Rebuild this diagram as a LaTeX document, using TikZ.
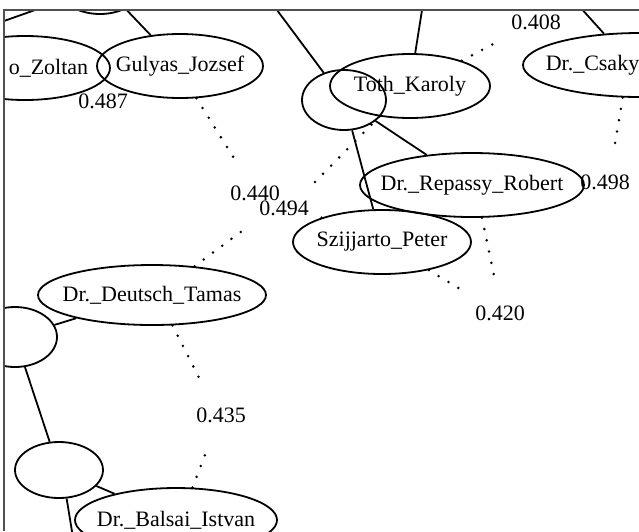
\documentclass[tikz,border=0pt]{standalone}
\usepackage{fontspec}
\setmainfont{Liberation Serif}
\usetikzlibrary{shapes.geometric}
\definecolor{framegray}{RGB}{80,80,80}
\newcommand{\zbox}[1]{\makebox[0pt]{#1}}
\begin{document}
\begin{tikzpicture}[x=1pt,y=-1pt,
  font=\fontsize{22}{26}\selectfont,
  nd/.style={ellipse, draw, line width=1.8pt, inner sep=0pt},
  lbl/.style={ellipse, inner sep=0pt, minimum width=88pt, minimum height=72pt},
  edge/.style={line width=1.8pt},
  dotline/.style={line width=2.8pt, line cap=round, dash pattern=on 0pt off 11.5pt}]
\useasboundingbox (0,0) rectangle (639,531);
\begin{scope}
\clip (4,10) rectangle (639,531);
% nodes
\node[nd, minimum width=90pt, minimum height=64pt] (tl) at (100,-18) {};
\node[nd, minimum width=170pt, minimum height=64pt] (zoltan) at (25,68) {\zbox{\hspace*{47pt}o\_Zoltan}};
\node[nd, minimum width=166pt, minimum height=64pt] (gulyas) at (180,66) {\zbox{Gulyas\_Jozsef}};
\node[nd, minimum width=160pt, minimum height=64pt] (toth) at (410,86) {\zbox{Toth\_Karoly}};
\node[nd, minimum width=84pt, minimum height=60pt] (small) at (344,100) {};
\node[nd, minimum width=234pt, minimum height=64pt] (csaky) at (640,65) {\zbox{Dr.\_Csaky\hspace*{95pt}}};
\node[nd, minimum width=224pt, minimum height=64pt] (repassy) at (472,185) {\zbox{Dr.\_Repassy\_Robert}};
\node[nd, minimum width=178pt, minimum height=64pt] (szij) at (382,242) {\zbox{Szijjarto\_Peter}};
\node[nd, minimum width=228pt, minimum height=60pt] (deutsch) at (152,295) {\zbox{Dr.\_Deutsch\_Tamas}};
\node[nd, minimum width=84pt, minimum height=60pt] (left) at (15,337) {};
\node[nd, minimum width=88pt, minimum height=56pt] (lsmall) at (59,470) {};
\node[nd, minimum width=202pt, minimum height=64pt] (balsai) at (176,520) {\zbox{Dr.\_Balsai\_Istvan}};
% labels
\node[lbl] (l487) at (103,101) {0.487};
\node[lbl] (l440) at (255,193) {0.440};
\node[lbl] (l494) at (284,208) {0.494};
\node[lbl] (l408) at (536,22) {0.408};
\node[lbl] (l498) at (605,182) {0.498};
\node[lbl] (l420) at (500,313) {0.420};
\node[lbl] (l435) at (221,415) {0.435};
% free ends
\coordinate (cfar) at (-40,36.5);
\coordinate (ctopa) at (269.5,0);
\coordinate (ctopb) at (423.6,0);
\coordinate (ctopc) at (573.6,0);
\coordinate (cbot) at (76,556);
% solid edges
\draw[edge] (tl.206) -- (cfar);
\draw[edge] (tl) -- (gulyas);
\draw[edge] (ctopa) -- (small);
\draw[edge] (ctopb) -- (toth);
\draw[edge] (ctopc) -- (csaky.139);
\draw[edge] (small) -- (repassy);
\draw[edge] (small) -- (szij);
\draw[edge] (left) -- (deutsch);
\draw[edge] (left) -- (lsmall);
\draw[edge] (lsmall) -- (balsai);
\draw[edge] (lsmall.-75) -- (cbot);
% dotted edges
\draw[dotline] (gulyas.-63) -- (l440.121);
\draw[dotline] (deutsch.34) -- (l440.255);
\draw[dotline] (toth.225) -- (l494.40);
\draw[dotline] (szij.158) -- (l494.-16);
\draw[dotline] (repassy.-73) -- (l420.99);
\draw[dotline] (szij.-31) -- (l420.149);
\draw[dotline] (csaky.242) -- (l498.75);
\draw[dotline] (toth.26) -- (l408.207);
\draw[dotline] (deutsch.-56) -- (l435.121);
\draw[dotline] (balsai.63) -- (l435.248);
\end{scope}
\draw[line width=1.2pt, framegray] (4,531) -- (4,10) -- (639,10);
\end{tikzpicture}
\end{document}
